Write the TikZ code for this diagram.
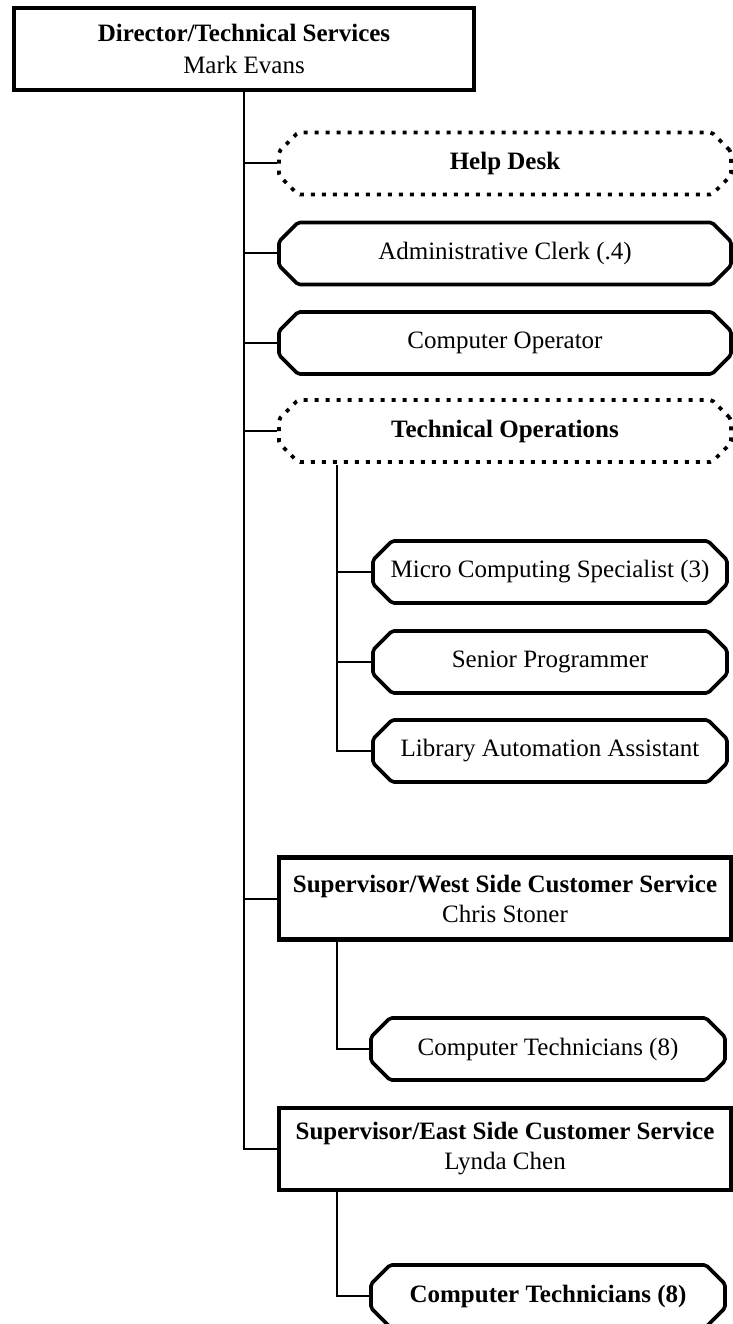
\documentclass[tikz,border=0pt]{standalone}
\usepackage{fontspec}
\setmainfont{Liberation Serif}
\usetikzlibrary{shapes.misc}
\begin{document}
\begin{tikzpicture}[x=1pt,y=1pt,
  every node/.style={font=\fontsize{25}{30}\selectfont, inner sep=0pt, align=center},
  mainbox/.style={draw, line width=4.8pt, rectangle, minimum height=82pt},
  posbox/.style={draw, line width=3.6pt, chamfered rectangle,
    chamfered rectangle xsep=9pt, chamfered rectangle ysep=10pt,
    rounded corners=2pt, minimum height=62pt},
  unitbox/.style={posbox, dash pattern=on 4pt off 7pt, line width=3.8pt,
    font=\fontsize{25}{30}\selectfont\bfseries},
  wide/.style={minimum width=452pt},
  narrow/.style={minimum width=354pt},
  conn/.style={line width=2pt},
  subconn/.style={line width=1.6pt}]

\fill[white] (0,0) rectangle (732,-1324);
\useasboundingbox (0,0) rectangle (732,-1324);

% head of department
\node[mainbox, minimum width=460pt] (top) at (244,-49)
  {\textbf{Director/Technical Services}\\[2pt]Mark Evans};

% direct reports
\node[unitbox, wide] (help) at (505,-163.5) {Help Desk};
\node[posbox, wide] (clerk) at (505,-253.5) {Administrative Clerk (.4)};
\node[posbox, wide] (oper) at (505,-343) {Computer Operator};
\node[unitbox, wide] (techops) at (505,-431) {Technical Operations};

% technical operations staff
\node[posbox, narrow] (micro) at (550,-572) {Micro Computing Specialist (3)};
\node[posbox, narrow] (prog) at (550,-662) {Senior Programmer};
\node[posbox, narrow] (lib) at (550,-751) {Library Automation Assistant};

% west side
\node[mainbox, wide] (west) at (505,-898.5)
  {\textbf{Supervisor/West Side Customer Service}\\Chris Stoner};
\node[posbox, narrow] (techw) at (548,-1049) {Computer Technicians (8)};

% east side
\node[mainbox, wide] (east) at (505,-1149)
  {\textbf{Supervisor/East Side Customer Service}\\Lynda Chen};
\node[posbox, narrow] (teche) at (548,-1296) {\textbf{Computer Technicians (8)}};

% branch points of the lower trunks
\coordinate (tops) at (337,-465);
\coordinate (wests) at (337,-941);
\coordinate (easts) at (337,-1191);

% main trunk
\draw[conn] (top.south) -- (top.south |- east.west) -- (east.west);
\foreach \n in {help,clerk,oper,techops,west}
  \draw[conn] (top.south |- \n.west) -- (\n.west);

% technical operations trunk
\draw[subconn] (tops) -- (tops |- lib.west) -- (lib.west);
\foreach \n in {micro,prog}
  \draw[subconn] (tops |- \n.west) -- (\n.west);

% technician links
\draw[subconn] (wests) -- (wests |- techw.west) -- (techw.west);
\draw[subconn] (easts) -- (easts |- teche.west) -- (teche.west);
\end{tikzpicture}
\end{document}
